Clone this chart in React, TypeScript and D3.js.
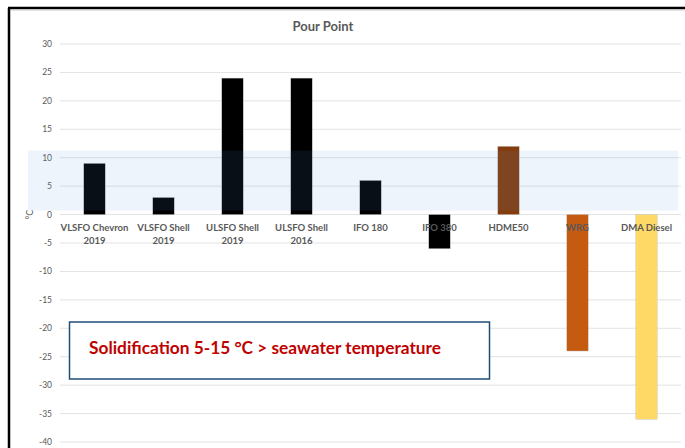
import React from "react";
import * as d3 from "d3";

const categories: string[][] = [
  ["VLSFO Chevron", "2019"],
  ["VLSFO Shell", "2019"],
  ["ULSFO Shell", "2019"],
  ["ULSFO Shell", "2016"],
  ["IFO 180"],
  ["IFO 380"],
  ["HDME50"],
  ["WRG"],
  ["DMA Diesel"],
];
const values: number[] = [9, 3, 24, 24, 6, -6, 12, -24, -36];
const barColors: string[] = ["#000000", "#000000", "#000000", "#000000", "#000000", "#000000", "#843c0c", "#c55a11", "#ffd966"];
const yTicks: number[] = [30, 25, 20, 15, 10, 5, 0, -5, -10, -15, -20, -25, -30, -35, -40];
const bandRange: number[] = [0.7, 11.25];
const title = "Pour Point";
const yLabel = "°C";
const note = "Solidification 5-15 °C > seawater temperature";

const W = 685;
const H = 448;
const font = "Lato, 'Open Sans', sans-serif";

export default function App() {
  const y = d3.scaleLinear().domain([-40, 30]).range([442, 44]);
  const x = d3
    .scaleBand<number>()
    .domain(values.map((_, i) => i))
    .range([60, 681])
    .paddingInner(0.69)
    .paddingOuter(0.345);
  const bw = x.bandwidth();

  return (
    <svg
      width={W}
      height={H}
      style={{ position: "absolute", left: 0, top: 0, background: "#fff" }}
    >
      {/* frame */}
      <line x1={8} x2={W} y1={8} y2={8} stroke="#000" strokeWidth={2.5} />
      <line x1={9} x2={9} y1={8} y2={H} stroke="#000" strokeWidth={2.5} />
      <line x1={11} x2={W} y1={10.5} y2={10.5} stroke="#d9d9d9" strokeWidth={0.75} />

      <text x={323} y={31} textAnchor="middle" fontFamily={font} fontWeight="bold" fontSize={13} fill="#595959">
        {title}
      </text>

      {/* gridlines */}
      {yTicks.map((t) => (
        <g key={t}>
          <line x1={60} x2={681} y1={y(t)} y2={y(t)} stroke="#e3e3e3" strokeWidth={1} />
          <text x={52} y={y(t)} dy="0.35em" textAnchor="end" fontFamily={font} fontSize={8.5} fill="#595959">
            {t}
          </text>
        </g>
      ))}

      <text
        transform={`translate(33, ${y(0)}) rotate(-90)`}
        textAnchor="middle"
        fontFamily={font}
        fontSize={9}
        fill="#595959"
      >
        {yLabel}
      </text>

      {/* bars */}
      {values.map((v, i) => (
        <rect
          key={i}
          x={x(i)}
          y={y(Math.max(0, v))}
          width={bw}
          height={Math.abs(y(v) - y(0))}
          fill={barColors[i]}
          stroke="#bfbfbf"
          strokeWidth={0.4}
        />
      ))}

      {/* band */}
      <rect
        x={28}
        width={650}
        y={y(bandRange[1])}
        height={y(bandRange[0]) - y(bandRange[1])}
        fill="#5b8fd6"
        fillOpacity={0.1}
      />

      {/* category labels */}
      {categories.map((lines, i) => (
        <text
          key={i}
          x={(x(i) as number) + bw / 2}
          y={231}
          textAnchor="middle"
          fontFamily={font}
          fontSize={9.5}
          fontWeight="bold"
          fill="#595959"
        >
          {lines.map((l, j) => (
            <tspan key={j} x={(x(i) as number) + bw / 2} dy={j === 0 ? 0 : 13}>
              {l}
            </tspan>
          ))}
        </text>
      ))}

      {/* annotation */}
      <rect x={69.5} y={322} width={420} height={57} fill="#fff" stroke="#1f4e79" strokeWidth={1.5} />
      <text
        x={89}
        y={354}
        fontFamily={font}
        fontWeight="bold"
        fontSize={16.5}
        fill="#c00000"
        textLength={352}
        lengthAdjust="spacingAndGlyphs"
      >
        {note}
      </text>
    </svg>
  );
}
